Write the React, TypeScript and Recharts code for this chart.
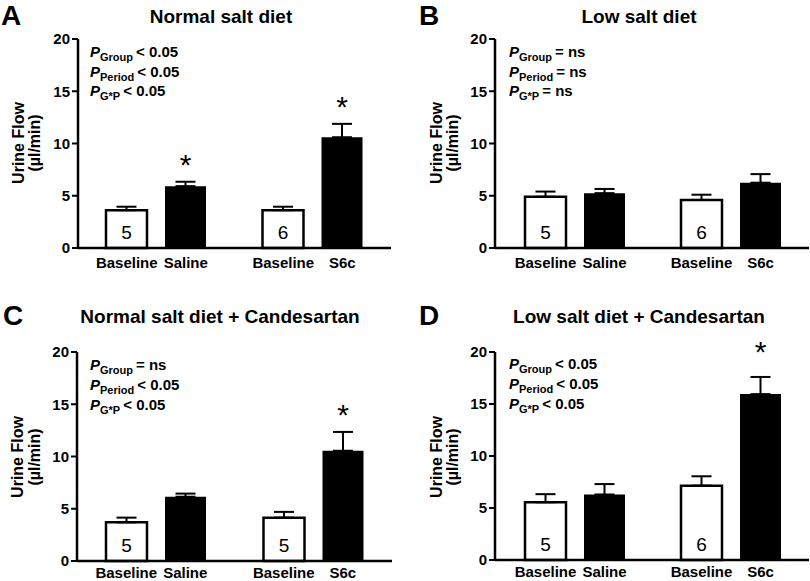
import { BarChart, Bar, XAxis, YAxis, ErrorBar, LabelList } from "recharts";

const FONT = "'Liberation Sans', Arial, Helvetica, sans-serif";

// ── shared categories / ticks ─────────────────────────
const groups = ["Saline", "S6c"];
const baseTicks = ["Baseline", "Baseline"];
const treatTicks = ["Saline", "S6c"];
const yTicks = [0, 5, 10, 15, 20];
const statNames = ["Group", "Period", "G*P"];

// ── A: normal salt diet ───────────────────────────────
const aBase = [3.62, 3.62];
const aBaseErr = [0.33, 0.33];
const aTreat = [5.92, 10.6];
const aTreatErr = [0.42, 1.28];
const aN = ["5", "6"];
const aStar = [true, true];
const aStats = ["< 0.05", "< 0.05", "< 0.05"];

// ── B: low salt diet ──────────────────────────────────
const bBase = [4.9, 4.6];
const bBaseErr = [0.5, 0.5];
const bTreat = [5.25, 6.25];
const bTreatErr = [0.4, 0.82];
const bN = ["5", "6"];
const bStar = [false, false];
const bStats = ["= ns", "= ns", "= ns"];

// ── C: normal salt diet + candesartan ─────────────────
const cBase = [3.7, 4.15];
const cBaseErr = [0.45, 0.55];
const cTreat = [6.15, 10.55];
const cTreatErr = [0.3, 1.8];
const cN = ["5", "5"];
const cStar = [false, true];
const cStats = ["= ns", "< 0.05", "< 0.05"];

// ── D: low salt diet + candesartan ────────────────────
const dBase = [5.55, 7.15];
const dBaseErr = [0.78, 0.9];
const dTreat = [6.3, 15.95];
const dTreatErr = [1.0, 1.65];
const dN = ["5", "6"];
const dStar = [false, true];
const dStats = ["< 0.05", "< 0.05", "< 0.05"];

const panels = [
  {
    letter: "A", title: "Normal salt diet",
    base: aBase, baseErr: aBaseErr, treat: aTreat, treatErr: aTreatErr, n: aN, star: aStar, stats: aStats,
    left: 0, top: 0, height: 290, mt: 39, mb: 12, xh: 30, yw: 78, mr: 14, pad: 0, tickDy: 20,
    lx: 1, ly: 25, tx: 221, ty: 23, yl1: 24, yl2: 40, ycy: 143, px: 90, py: [57, 76.5, 96], starGap: 7,
  },
  {
    letter: "B", title: "Low salt diet",
    base: bBase, baseErr: bBaseErr, treat: bTreat, treatErr: bTreatErr, n: bN, star: bStar, stats: bStats,
    left: 405, top: 0, height: 290, mt: 39, mb: 12, xh: 30, yw: 90, mr: 1, pad: 2, tickDy: 20,
    lx: 419, ly: 25, tx: 639, ty: 23, yl1: 442, yl2: 458, ycy: 143, px: 509, py: [57, 76.5, 96], starGap: 7,
  },
  {
    letter: "C", title: "Normal salt diet + Candesartan",
    base: cBase, baseErr: cBaseErr, treat: cTreat, treatErr: cTreatErr, n: cN, star: cStar, stats: cStats,
    left: 0, top: 290, height: 291, mt: 62, mb: 0, xh: 20, yw: 77, mr: 13, pad: 0, tickDy: 17,
    lx: 3, ly: 325, tx: 220, ty: 323, yl1: 23, yl2: 40, ycy: 457, px: 90, py: [370, 390, 410], starGap: 7,
  },
  {
    letter: "D", title: "Low salt diet + Candesartan",
    base: dBase, baseErr: dBaseErr, treat: dTreat, treatErr: dTreatErr, n: dN, star: dStar, stats: dStats,
    left: 405, top: 290, height: 291, mt: 62, mb: 0, xh: 21, yw: 90, mr: 1, pad: 2, tickDy: 17,
    lx: 419, ly: 325, tx: 639, ty: 323, yl1: 442, yl2: 458, ycy: 457, px: 509, py: [369, 389, 409], starGap: 15,
  },
];

const BAR = 41;
const GAP = 18;

// two labels per category, one under each bar
function PairTick(props: any) {
  const { x, y, payload, dyBase } = props;
  const i = props.index ?? payload?.index ?? 0;
  const off = (BAR + GAP) / 2;
  const st = { fontFamily: FONT, fontSize: 15, fontWeight: 700, fill: "#000" };
  return (
    <g>
      <text x={x - off} y={y + dyBase} textAnchor="middle" {...st}>{baseTicks[i]}</text>
      <text x={x + off} y={y + dyBase} textAnchor="middle" {...st}>{treatTicks[i]}</text>
    </g>
  );
}

function Panel({ p }: { p: any }) {
  const rows = groups.map((g, i) => ({
    g,
    i,
    b: p.base[i],
    be: [0, p.baseErr[i]],
    t: p.treat[i],
    te: [0, p.treatErr[i]],
    n: p.n[i],
  }));

  // asterisk above the error bar; px-per-unit taken from the bar itself
  const renderStar = (lp: any) => {
    const vb = lp.viewBox ?? lp;
    const idx = Number(lp.value);
    if (!p.star[idx]) return null;
    const { x, y, width, height } = vb;
    const k = height / p.treat[idx];
    const top = y - p.treatErr[idx] * k;
    return (
      <text
        key={`star-${idx}`}
        x={x + width / 2}
        y={top - p.starGap}
        textAnchor="middle"
        fontFamily={FONT}
        fontSize={30}
        fill="#000"
      >
        *
      </text>
    );
  };

  return (
    <div style={{ position: "absolute", left: p.left, top: p.top }}>
      <BarChart
        width={405}
        height={p.height}
        data={rows}
        margin={{ top: p.mt, right: p.mr, bottom: p.mb, left: 0 }}
        barSize={BAR}
        barGap={GAP}
        style={{ overflow: "visible" }}
      >
        <XAxis
          dataKey="g"
          height={p.xh}
          padding={{ left: p.pad, right: 0 }}
          stroke="#000"
          axisLine={{ stroke: "#000", strokeWidth: 2.5 }}
          tickLine={false}
          tickSize={0}
          tickMargin={0}
          interval={0}
          tick={<PairTick dyBase={p.tickDy} />}
        />
        <YAxis
          width={p.yw}
          domain={[0, 20]}
          ticks={yTicks}
          interval={0}
          stroke="#000"
          axisLine={{ stroke: "#000", strokeWidth: 2.5 }}
          tickLine={{ stroke: "#000", strokeWidth: 2 }}
          tickSize={6}
          tickMargin={2}
          tick={{ fill: "#000", fontSize: 15, fontWeight: 700, fontFamily: FONT }}
        />
        <Bar dataKey="b" fill="#fff" stroke="#000" strokeWidth={2.5} isAnimationActive={false}>
          <ErrorBar dataKey="be" width={10} stroke="#000" strokeWidth={2} isAnimationActive={false} />
          <LabelList
            dataKey="n"
            position="insideBottom"
            offset={9}
            fill="#000"
            fontSize={19}
            fontFamily={FONT}
          />
        </Bar>
        <Bar dataKey="t" fill="#000" isAnimationActive={false}>
          <ErrorBar dataKey="te" width={10} stroke="#000" strokeWidth={2} isAnimationActive={false} />
          <LabelList dataKey="i" content={renderStar} />
        </Bar>
      </BarChart>
    </div>
  );
}

function Overlay() {
  const bold = { fontFamily: FONT, fontWeight: 700, fill: "#000" };
  return (
    <svg
      width={810}
      height={581}
      style={{ position: "absolute", left: 0, top: 0, pointerEvents: "none" }}
    >
      {panels.map((p) => (
        <g key={p.letter}>
          <text x={p.lx} y={p.ly} fontSize={28} {...bold}>{p.letter}</text>
          <text x={p.tx} y={p.ty} fontSize={19} textAnchor="middle" {...bold}>{p.title}</text>
          <text
            x={p.yl1}
            y={p.ycy}
            fontSize={16}
            textAnchor="middle"
            transform={`rotate(-90 ${p.yl1} ${p.ycy})`}
            {...bold}
          >
            Urine Flow
          </text>
          <text
            x={p.yl2}
            y={p.ycy}
            fontSize={16}
            textAnchor="middle"
            transform={`rotate(-90 ${p.yl2} ${p.ycy})`}
            {...bold}
          >
            (µl/min)
          </text>
          {statNames.map((s, j) => (
            <text key={s} x={p.px} y={p.py[j]} fontSize={15} {...bold}>
              <tspan fontStyle="italic">P</tspan>
              <tspan fontSize={11} dy={4}>{s}</tspan>
              <tspan dy={-4} dx={3}>{p.stats[j]}</tspan>
            </text>
          ))}
        </g>
      ))}
    </svg>
  );
}

export default function App() {
  return (
    <div
      style={{
        position: "absolute",
        left: 0,
        top: 0,
        width: 810,
        height: 581,
        background: "#fff",
        fontFamily: FONT,
      }}
    >
      {panels.map((p) => (
        <Panel key={p.letter} p={p} />
      ))}
      <Overlay />
    </div>
  );
}
